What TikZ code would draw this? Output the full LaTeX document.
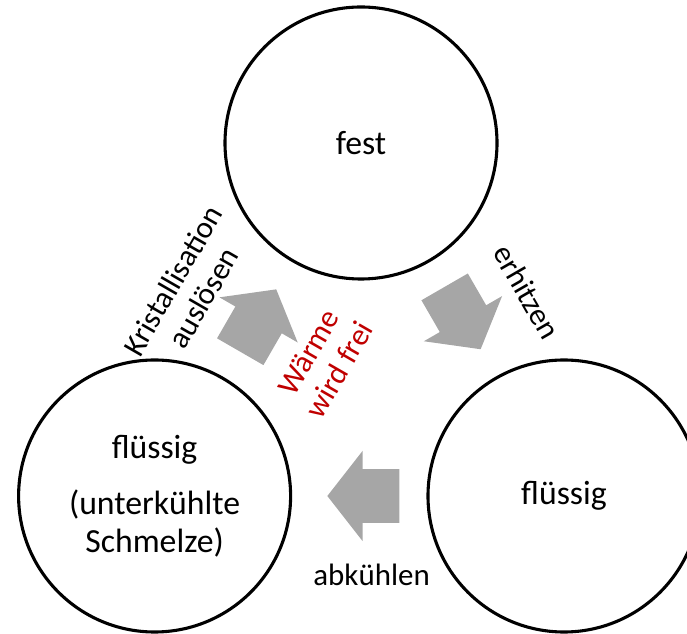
\documentclass[tikz,border=0pt]{standalone}
\usepackage{fontspec}
\setmainfont{Carlito}
\usetikzlibrary{positioning,shapes.arrows}
\definecolor{arrowgray}{HTML}{A6A6A6}
\definecolor{heatred}{HTML}{C00000}
\tikzset{
    %Define style for the states
    state/.style={
           circle,
           draw=black, line width=2.2pt,
           minimum size=6.8cm,
           inner sep=0pt,
           align=center,
           font=\fontsize{24}{27}\selectfont},
    %Define style for the grey block arrows
    blockarrow/.style={
           single arrow,
           fill=arrowgray,
           draw=none,
           inner xsep=0pt,
           inner ysep=0.6625cm,
           minimum height=1.8cm,
           single arrow head extend=0.46cm,
           single arrow tip angle=104},
    % Define style for the process labels
    process/.style={
           align=center,
           inner sep=0pt,
           font=\fontsize{22}{25}\selectfont}
}
\begin{document}
\begin{tikzpicture}[node distance=1cm, on grid]
    \useasboundingbox (0,0) rectangle (17.175,15.85);
 %states
    \node[state] (fest) at (9.025,12.275) {fest};
    \node[state, below left=8.825cm and 5.16cm of fest] (unterkuehlt)
        {flüssig\\[0.45cm](unterkühlte\\Schmelze)};
    \node[state, below right=8.825cm and 5.075cm of fest] (fluessig) {flüssig};
 %arrows
    \node[blockarrow, rotate=-60] (erhitzen) at (11.435,8.125) {};
    \node[blockarrow, rotate=180] (abkuehlen) at (9.345,3.45) {};
    \node[blockarrow, rotate=60] (kristall) at (6.325,7.61) {};
 %labels
    \node[process, rotate=-60] (erhitzentext) at (13.175,8.55) {erhitzen};
    \node[process] (abkuehlentext) at (9.29,1.475) {abkühlen};
    \node[process, rotate=60] (kristalltext) at (4.7,8.625) {Kristallisation\\auslösen};
    \node[process, rotate=60, text=heatred] (waerme) at (8.1,6.825) {Wärme\\wird frei};
\end{tikzpicture}
\end{document}
